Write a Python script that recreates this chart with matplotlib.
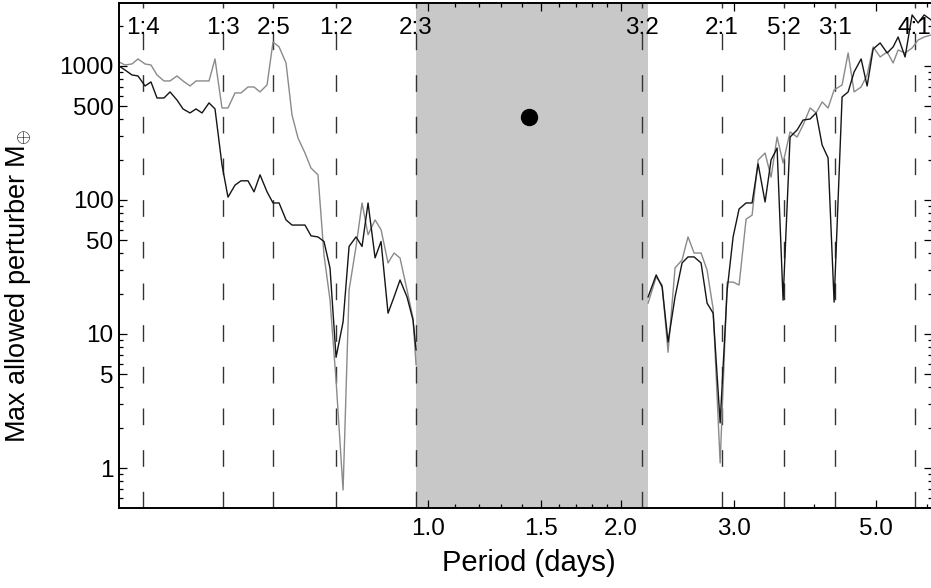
import numpy as np
import matplotlib
matplotlib.use('Agg')
from matplotlib import pyplot as plt
from matplotlib.ticker import FixedLocator, FixedFormatter, NullFormatter

plt.rcParams['font.family'] = ['Liberation Sans', 'DejaVu Sans']
plt.rcParams['mathtext.fontset'] = 'custom'
plt.rcParams['mathtext.rm'] = 'Liberation Sans'
plt.rcParams['mathtext.it'] = 'Liberation Sans'

# planet and the excluded (shaded) zone, in days
planet_period = 1.435
planet_mass = 416
gap_lo, gap_hi = 0.958, 2.204

# resonances: label and period ratio to the planet
res_labels = ['1:4', '1:3', '2:5', '1:2', '2:3', '3:2', '2:1', '5:2', '3:1', '4:1']
res_ratio = [1/4, 1/3, 2/5, 1/2, 2/3, 3/2, 2/1, 5/2, 3/1, 4/1]

# inner side
period_left = [0.3296, 0.3368, 0.3453, 0.3529, 0.3619, 0.3697, 0.3778, 0.3874, 0.3959, 0.4059,
               0.4148, 0.4253, 0.4346, 0.4441, 0.4554, 0.4653, 0.4771, 0.4875, 0.4999, 0.5108,
               0.5238, 0.5353, 0.5470, 0.5609, 0.5731, 0.5857, 0.6005, 0.6135, 0.6269, 0.6428,
               0.6569, 0.6735, 0.6882, 0.7033, 0.7187, 0.7370, 0.7531, 0.7722, 0.7890, 0.8062,
               0.8268, 0.8447, 0.8662, 0.8851, 0.9043, 0.9273, 0.9475, 0.9578]
black_left = [1000, 933, 857, 842, 709, 760, 577, 577, 640, 557,
              478, 446, 478, 446, 530, 478, 183, 105, 129, 139,
              139, 115, 154, 115, 95, 95, 71, 65, 65, 65,
              54, 53, 49, 31, 6.7, 12.3, 45, 53, 45, 95,
              37, 49, 14.3, 18.9, 25.3, 18.9, 12.7, 7.6]
gray_left = [1071, 1017, 1035, 1128, 1035, 1017, 857, 773, 773, 842,
             773, 709, 773, 773, 773, 1128, 486, 486, 629, 629,
             697, 697, 640, 722, 1510, 1387, 1053, 431, 290, 224,
             173, 154, 38.9, 17.9, 4.5, 0.685, 21.3, 45, 95, 55,
             71, 60, 33.9, 40.2, 36.9, 21.3, 13.1, 5.9]

# outer side
period_right = [2.204, 2.269, 2.318, 2.368, 2.428, 2.490, 2.544, 2.600, 2.666, 2.724,
                2.784, 2.855, 2.928, 2.991, 3.056, 3.134, 3.202, 3.272, 3.355, 3.428,
                3.503, 3.579, 3.670, 3.764, 3.846, 3.944, 4.030, 4.118, 4.207, 4.299,
                4.424, 4.521, 4.619, 4.737, 4.840, 4.946, 5.072, 5.201, 5.314, 5.410,
                5.547, 5.689, 5.813, 5.940, 6.091]
black_right = [18.9, 27.6, 22.4, 8.7, 18.9, 33.9, 37.6, 37.6, 33.9, 17.0,
               14.3, 2.17, 21.3, 53, 85.7, 95, 95, 186, 96.6, 199,
               244, 17.9, 295, 333, 395, 402, 446, 257, 206, 17.3,
               587, 640, 902, 1128, 709, 1339, 1485, 1250, 1387, 1645,
               1167, 2403, 2094, 2403, 2204]
gray_right = [17.0, 26.6, 23.2, 7.3, 31.1, 35.7, 53, 40.2, 40.2, 30.0,
              15.4, 1.09, 24.4, 24.4, 23.2, 72, 77, 199, 224, 148,
              295, 189, 322, 295, 363, 486, 446, 539, 486, 662,
              722, 1250, 640, 697, 857, 1387, 1167, 1272, 1053, 1316,
              1250, 1362, 1563, 1645, 1703]

fig = plt.figure(figsize=(9.31, 5.88), dpi=100)
ax = fig.add_axes([119/931, 80/588, 813/931, 505/588])
ax.set_xscale('log'); ax.set_yscale('log')
ax.set_xlim(0.3296, 6.11)
ax.set_ylim(0.503, 2950)

# shaded zone
ax.axvspan(gap_lo, gap_hi, color='#c8c8c8', lw=0, zorder=0)

# resonance lines + labels
for lab, r in zip(res_labels, res_ratio):
	p = planet_period*r
	ax.axvline(p, color='#333333', lw=1.0, ls=(0, (12, 18)), zorder=1)
	ax.text(p, 0.95, lab, transform=ax.get_xaxis_transform(), ha='center', va='center', fontsize=17.5, zorder=5)

ax.plot(period_left, gray_left, color='#8a8a8a', lw=1.0, zorder=2)
ax.plot(period_right, gray_right, color='#8a8a8a', lw=1.0, zorder=2)
ax.plot(period_left, black_left, color='#151515', lw=1.0, zorder=3)
ax.plot(period_right, black_right, color='#151515', lw=1.0, zorder=3)
ax.plot([planet_period], [planet_mass], 'o', color='black', ms=11.5, zorder=4)

# ticks
ax.xaxis.set_major_locator(FixedLocator([1.0, 1.5, 2.0, 3.0, 5.0]))
ax.xaxis.set_major_formatter(FixedFormatter(['1.0', '1.5', '2.0', '3.0', '5.0']))
ax.xaxis.set_minor_locator(FixedLocator([1.1, 1.2, 1.3, 1.4, 1.6, 1.7, 1.8, 1.9, 4.0, 6.0]))
ax.xaxis.set_minor_formatter(NullFormatter())
ax.yaxis.set_major_locator(FixedLocator([1, 5, 10, 50, 100, 500, 1000]))
ax.yaxis.set_major_formatter(FixedFormatter(['1', '5', '10', '50', '100', '500', '1000']))
ax.yaxis.set_minor_locator(FixedLocator([0.6, 0.7, 0.8, 0.9, 2, 3, 4, 6, 7, 8, 9, 20, 30, 40, 60, 70, 80, 90,
                                         200, 300, 400, 600, 700, 800, 900, 2000]))
ax.yaxis.set_minor_formatter(NullFormatter())
ax.tick_params(which='both', direction='in', top=True, right=True, labelsize=17.5, width=0.9)
ax.tick_params(which='major', length=6)
ax.tick_params(which='minor', length=3)
ax.tick_params(axis='x', pad=7)
ax.tick_params(axis='y', pad=4)
for s in ax.spines.values(): s.set_linewidth(1.4)

ax.set_xlabel('Period (days)', fontsize=21)
ax.set_ylabel('Max allowed perturber $\\mathregular{M}_{\\oplus}$', fontsize=19.5)
ax.xaxis.set_label_coords(0.504, -0.082)
ax.yaxis.set_label_coords(-0.105, 0.44)

fig.savefig('out.png', dpi=100)
